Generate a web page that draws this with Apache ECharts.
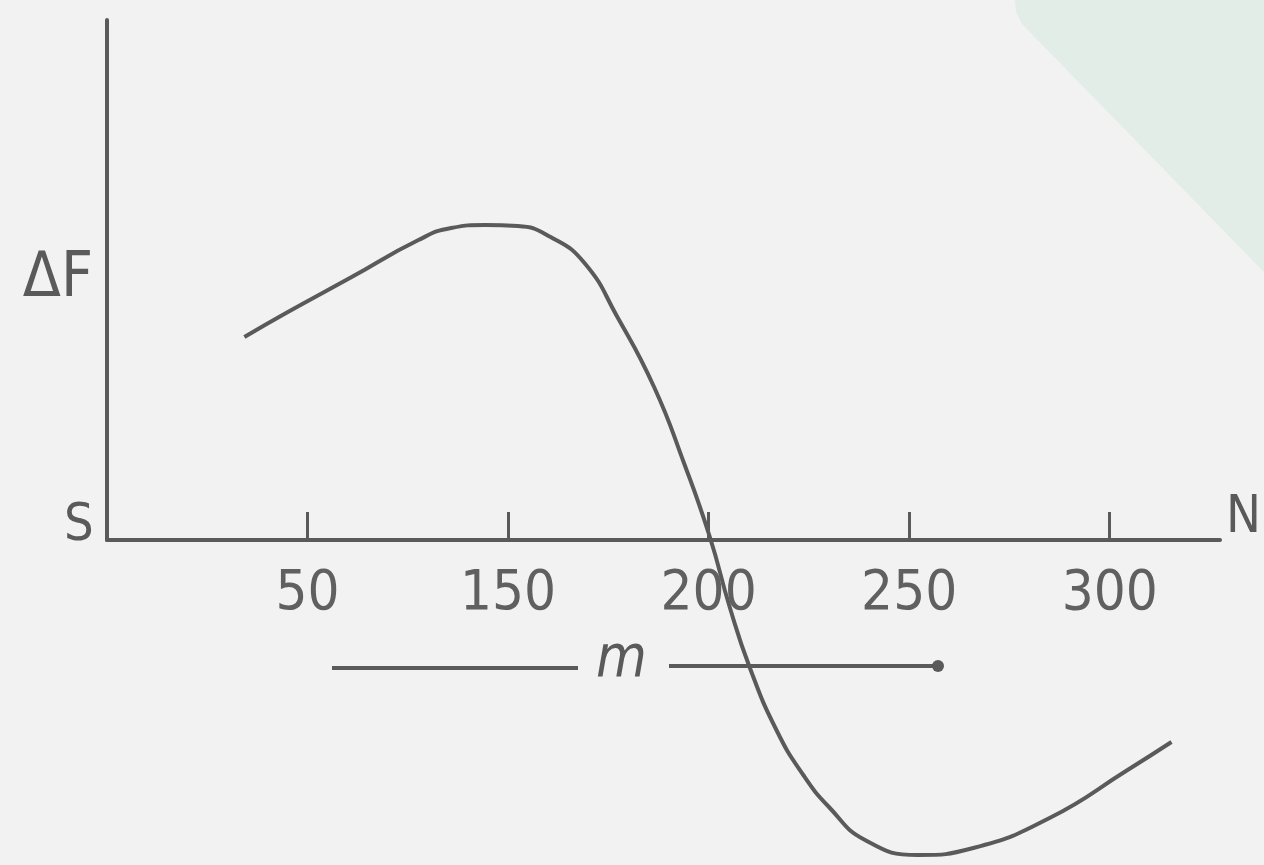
<!DOCTYPE html>
<html>
	<head>
		<meta charset="UTF-8">
		<title>ΔF S-N</title>
		<script type="text/javascript" src="https://cdn.jsdelivr.net/npm/echarts@6/dist/echarts.min.js"></script>
		<style>
			html, body { margin: 0; padding: 0; background: #f2f2f2; }
		</style>
	</head>
	<body>
	    <div id="main" style="width: 1264px;height:865px;"></div>
	    <script type="text/javascript">
	        // tick labels along S -> N (positions 1..5 on the axis)
	        var tickPos = [1, 2, 3, 4, 5];
	        var tickLabels = ['50', '150', '200', '250', '300'];
	        // curve (x in tick units, y = ΔF)
	        var curveX = [0.685, 0.893, 1.220, 1.553, 1.716, 1.885, 2.049, 2.212, 2.381, 2.545, 2.728, 2.877, 3.006,
	                      3.105, 3.204, 3.338, 3.472, 3.600, 3.780, 4.043, 4.320, 4.700, 5.089, 5.308];
	        var curveY = [2.03, 2.27, 2.63, 3.00, 3.12, 3.15, 3.14, 3.03, 2.77, 2.23, 1.53, 0.77, 0.03,
	                      -0.67, -1.27, -1.90, -2.35, -2.67, -3.00, -3.15, -3.08, -2.78, -2.30, -2.02];

	        var ink = '#5a5a5a';
	        var font = "'DejaVu Sans Condensed', 'DejaVu Sans', sans-serif";

	        var curve = curveX.map(function (x, i) { return [x, curveY[i]]; });

	        var myChart = echarts.init(document.getElementById('main'));

	        myChart.setOption({
	            backgroundColor: '#f2f2f2',
	            animation: false,
	            grid: { left: 107, top: 20, width: 1119, height: 520 },
	            xAxis: {
	                type: 'value',
	                min: 0,
	                max: 5.55,
	                interval: 1,
	                name: 'N',
	                nameLocation: 'end',
	                nameGap: 6,
	                nameTextStyle: { color: ink, fontFamily: font, fontSize: 52, verticalAlign: 'bottom', padding: [0, 0, -4, 0] },
	                axisLine: { lineStyle: { color: ink, width: 4 } },
	                axisTick: { inside: true, length: 28, customValues: tickPos, lineStyle: { color: ink, width: 3 } },
	                axisLabel: {
	                    customValues: tickPos,
	                    margin: 26,
	                    color: '#606060',
	                    fontFamily: font,
	                    fontSize: 56,
	                    formatter: function (v) {
	                        var i = tickPos.indexOf(Math.round(v));
	                        return i < 0 ? '' : tickLabels[i];
	                    }
	                },
	                splitLine: { show: false }
	            },
	            yAxis: {
	                type: 'value',
	                min: 0,
	                max: 5.2,
	                name: 'ΔF',
	                nameLocation: 'middle',
	                nameRotate: 0,
	                nameGap: 14,
	                nameTextStyle: { color: ink, fontFamily: font, fontSize: 62, align: 'right' },
	                axisLine: { show: true, lineStyle: { color: ink, width: 4 } },
	                axisTick: { show: false },
	                axisLabel: { show: false },
	                splitLine: { show: false }
	            },
	            graphic: [
	                {
	                    type: 'polygon', z: -10,
	                    shape: { points: [[1015, 0], [1264, 0], [1264, 272], [1022, 24], [1016, 12]] },
	                    style: { fill: '#e2ede7' }
	                },
	                {
	                    type: 'text', left: 64, top: 500,
	                    style: { text: 'S', fill: ink, font: '52px ' + font }
	                },
	                {
	                    type: 'line',
	                    shape: { x1: 332, y1: 668, x2: 578, y2: 668 },
	                    style: { stroke: ink, lineWidth: 4 }
	                },
	                {
	                    type: 'text', left: 596, top: 632,
	                    style: { text: 'm', fill: ink, font: 'italic 58px ' + font }
	                },
	                {
	                    type: 'line',
	                    shape: { x1: 669, y1: 666, x2: 938, y2: 666 },
	                    style: { stroke: ink, lineWidth: 4 }
	                },
	                {
	                    type: 'circle',
	                    shape: { cx: 938, cy: 666, r: 6 },
	                    style: { fill: ink }
	                }
	            ],
	            series: [{
	                type: 'line',
	                data: curve,
	                smooth: 0.5,
	                clip: false,
	                symbol: 'none',
	                lineStyle: { color: ink, width: 4 }
	            }]
	        });
	    </script>
	</body>
</html>
